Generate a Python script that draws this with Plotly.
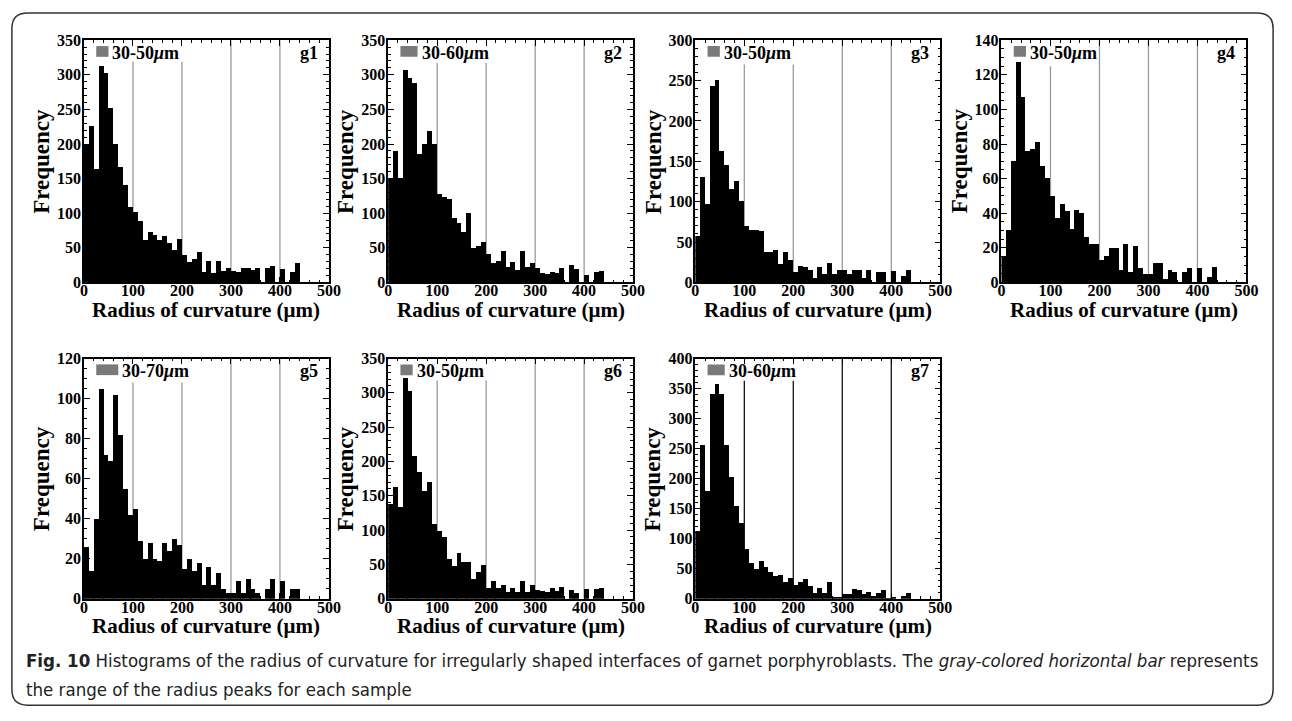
import numpy as np
import plotly.graph_objects as go

# ---------------- data ----------------
bin_edges = list(range(0, 450, 10))  # 10-µm bins, 0..440

g1 = [200, 225, 163, 312, 302, 251, 199, 167, 141, 108,
      102, 88, 61, 72, 68, 61, 67, 56, 47, 63,
      39, 29, 33, 44, 15, 31, 13, 30, 16, 21,
      16, 14, 20, 20, 18, 21, 0, 20, 23, 0,
      19, 0, 14, 28]
g2 = [150, 190, 150, 307, 295, 288, 185, 200, 218, 200,
      128, 123, 120, 93, 85, 73, 100, 50, 52, 58,
      40, 27, 31, 45, 22, 29, 18, 45, 22, 28,
      21, 13, 12, 14, 13, 20, 0, 25, 19, 0,
      10, 0, 15, 16]
g3 = [57, 130, 97, 243, 251, 163, 145, 115, 125, 101,
      70, 64, 64, 63, 37, 37, 40, 23, 37, 28,
      12, 20, 19, 15, 5, 19, 10, 24, 10, 15,
      15, 10, 15, 15, 5, 15, 0, 12, 12, 0,
      14, 0, 8, 15]
g4 = [15, 30, 70, 127, 107, 76, 77, 81, 67, 60,
      50, 37, 45, 41, 31, 42, 40, 26, 22, 22,
      13, 15, 20, 20, 7, 22, 6, 21, 8, 5,
      5, 11, 11, 2, 7, 6, 0, 6, 8, 0,
      8, 0, 3, 9]
g5 = [26, 14, 40, 105, 72, 69, 102, 82, 55, 42,
      45, 29, 20, 28, 20, 19, 28, 24, 30, 27,
      15, 20, 14, 18, 7, 16, 7, 13, 5, 3,
      3, 9, 3, 10, 5, 3, 0, 5, 10, 0,
      9, 0, 5, 5]
g6 = [138, 163, 134, 323, 304, 208, 185, 158, 171, 110,
      100, 90, 59, 48, 67, 54, 54, 30, 40, 50,
      16, 26, 16, 20, 11, 17, 11, 27, 11, 20,
      14, 12, 10, 17, 12, 18, 0, 13, 9, 0,
      15, 0, 15, 16]
g7 = [114, 256, 181, 341, 359, 341, 256, 204, 156, 127,
      83, 60, 50, 64, 53, 45, 38, 40, 28, 36,
      23, 28, 34, 22, 11, 19, 10, 28, 4, 4,
      9, 9, 17, 15, 8, 12, 5, 11, 16, 1,
      4, 0, 6, 10]

sample_names = ["g1", "g2", "g3", "g4", "g5", "g6", "g7"]
series = [g1, g2, g3, g4, g5, g6, g7]
peak_lo = [30, 30, 30, 30, 30, 30, 30]
peak_hi = [50, 60, 50, 50, 70, 50, 60]
peak_labels = ["30-50", "30-60", "30-50", "30-50", "30-70", "30-50", "30-60"]
y_max = [350, 350, 300, 140, 120, 350, 400]
y_dtick = [50, 50, 50, 20, 20, 50, 50]
x_ticks = [0, 100, 200, 300, 400, 500]
grid_x = [100, 200, 300, 400]
# upper end of each grid line (short lines stop below the legend text)
grid_top = [[319, 319, 350, 350],
            [317, 317, 350, 350],
            [270, 270, 300, 300],
            [125, 140, 140, 140],
            [108, 108, 120, 120],
            [318, 318, 350, 350],
            [363, 363, 400, 400]]
grid_color = ["#9a9a9a"] * 6 + ["#111111"]

x_title = "Radius of curvature (μm)"
y_title = "Frequency"
caption_bold = "Fig. 10"
caption_1 = (" Histograms of the radius of curvature for irregularly shaped interfaces of garnet "
             "porphyroblasts. The <i>gray-colored horizontal bar</i> represents")
caption_2 = "the range of the radius peaks for each sample"

# ---------------- layout geometry (pixels) ----------------
W, H = 1292, 721
col_x = [(81, 329), (389, 637), (700, 948), (1010, 1258)]
row_y = [(33, 281), (359, 605)]
panel_pos = [(0, 0), (0, 1), (0, 2), (0, 3), (1, 0), (1, 1), (1, 2)]

SERIF = "Liberation Serif, Times New Roman, serif"
CAP_FONT = "DejaVu Sans Condensed, Liberation Sans Narrow, sans-serif"

fig = go.Figure()
layout = dict(width=W, height=H, margin=dict(l=0, r=0, t=0, b=0),
              paper_bgcolor="white", plot_bgcolor="white",
              showlegend=False, bargap=0)
shapes = []
annotations = []

centers = (np.array(bin_edges[:-1]) + 5).tolist()

for i, (name, vals) in enumerate(zip(sample_names, series)):
    r, c = panel_pos[i]
    xs, xe = col_x[c]
    ys, ye = row_y[r]
    k = "" if i == 0 else str(i + 1)
    xa, ya = "x" + k, "y" + k
    fig.add_trace(go.Bar(x=centers, y=vals, width=10, xaxis=xa, yaxis=ya,
                         marker=dict(color="black", line=dict(width=0))))
    layout["xaxis" + k] = dict(
        domain=[xs / W, xe / W], anchor=ya, range=[0, 500],
        tickvals=x_ticks, ticks="inside", ticklen=6, tickwidth=1.2,
        tickcolor="black", showline=True, linecolor="black", linewidth=1.5,
        mirror="allticks", showgrid=False, zeroline=False, ticklabelstandoff=-7,
        tickfont=dict(family=SERIF, size=16, color="black", weight="bold"),
        minor=dict(ticks="inside", ticklen=3, dtick=20, tickcolor="black"))
    layout["yaxis" + k] = dict(
        domain=[1 - ye / H, 1 - ys / H], anchor=xa, range=[0, y_max[i]],
        dtick=y_dtick[i], ticks="inside", ticklen=6, tickwidth=1.2,
        tickcolor="black", showline=True, linecolor="black", linewidth=1.5,
        mirror="allticks", showgrid=False, zeroline=False, ticklabelstandoff=-2,
        tickfont=dict(family=SERIF, size=16, color="black", weight="bold"),
        minor=dict(ticks="inside", ticklen=3, dtick=y_dtick[i] / 5 if y_dtick[i] == 50 else y_dtick[i] / 4,
                   tickcolor="black"))
    # vertical reference lines
    for gx, gt in zip(grid_x, grid_top[i]):
        shapes.append(dict(type="line", xref=xa, yref=ya, x0=gx, x1=gx, y0=0, y1=gt,
                           line=dict(color=grid_color[i], width=1.3), layer="below"))
    # gray bar = range of the radius peaks
    hpx = ye - ys
    shapes.append(dict(type="rect", xref=xa, yref=ya + " domain",
                       x0=peak_lo[i] - 5, x1=peak_hi[i],
                       y0=1 - 17 / hpx, y1=1 - 6 / hpx,
                       fillcolor="#7a7a7a", line=dict(width=0)))
    annotations.append(dict(xref=xa, yref=ya + " domain", x=peak_hi[i], y=1 - 13 / hpx,
                            xanchor="left", yanchor="middle", xshift=2, showarrow=False,
                            text=peak_labels[i] + "<i>μ</i>m",
                            font=dict(family=SERIF, size=18, color="black", weight="bold")))
    annotations.append(dict(xref=xa + " domain", yref=ya + " domain", x=1, y=1 - 13 / hpx,
                            xanchor="right", yanchor="middle", xshift=-9, showarrow=False,
                            text=name,
                            font=dict(family=SERIF, size=18, color="black", weight="bold")))
    # axis titles
    annotations.append(dict(xref="paper", yref="paper", x=(xs + xe) / 2 / W,
                            y=1 - (ye + 28) / H, xanchor="center", yanchor="middle",
                            showarrow=False, text=x_title,
                            font=dict(family=SERIF, size=21, color="black", weight="bold")))
    annotations.append(dict(xref="paper", yref="paper", x=(xs - 43) / W,
                            y=1 - (ys + ye) / 2 / H, xanchor="center", yanchor="middle",
                            textangle=-90, showarrow=False, text=y_title,
                            font=dict(family=SERIF, size=23, color="black", weight="bold")))

# caption
annotations.append(dict(xref="paper", yref="paper", x=20 / W, y=1 - 668 / H,
                        xanchor="left", yanchor="middle", showarrow=False,
                        text="<b>" + caption_bold + "</b>" + caption_1,
                        font=dict(family=CAP_FONT, size=18.5, color="#222222")))
annotations.append(dict(xref="paper", yref="paper", x=20 / W, y=1 - 698 / H,
                        xanchor="left", yanchor="middle", showarrow=False,
                        text=caption_2,
                        font=dict(family=CAP_FONT, size=18.5, color="#222222")))

# rounded outer frame
x0, x1, y0, y1 = 8 / W, 1285 / W, 1 - 714 / H, 1 - 5 / H
rx, ry = 16 / W, 16 / H
path = (f"M {x0+rx},{y1} L {x1-rx},{y1} Q {x1},{y1} {x1},{y1-ry} "
        f"L {x1},{y0+ry} Q {x1},{y0} {x1-rx},{y0} L {x0+rx},{y0} "
        f"Q {x0},{y0} {x0},{y0+ry} L {x0},{y1-ry} Q {x0},{y1} {x0+rx},{y1} Z")
shapes.append(dict(type="path", xref="paper", yref="paper", path=path,
                   line=dict(color="#333333", width=1.5)))

layout["shapes"] = shapes
layout["annotations"] = annotations
fig.update_layout(**layout)

fig.write_html("out.html", config={"displayModeBar": False},
               post_script="document.body.style.margin='0';document.body.style.overflow='hidden';")
